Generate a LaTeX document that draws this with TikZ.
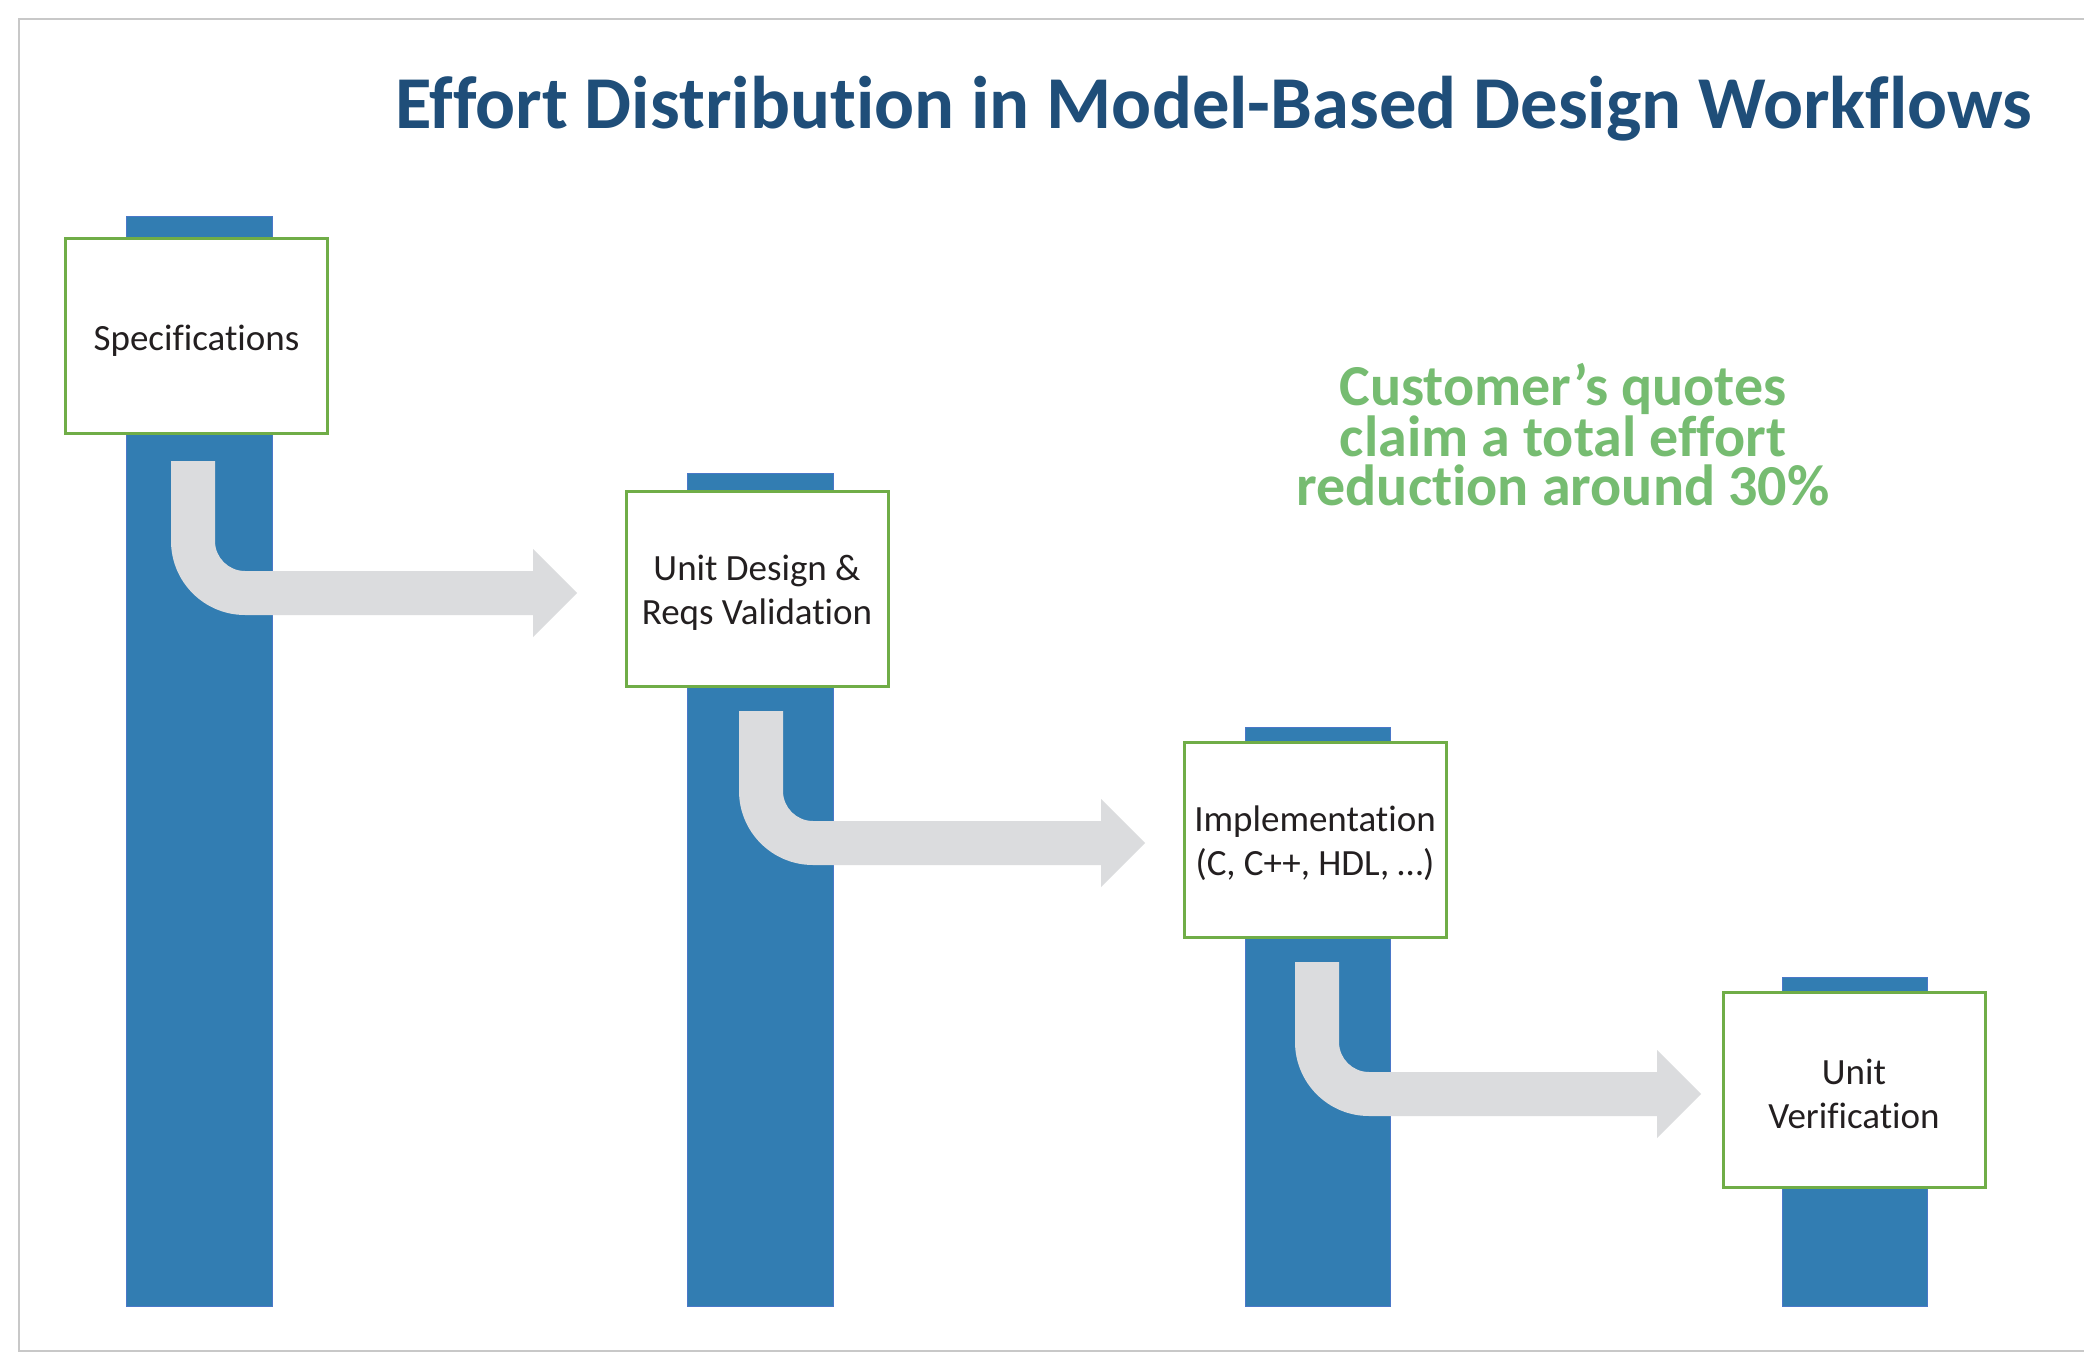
\documentclass[tikz,border=0pt]{standalone}
\usepackage{fontspec}
\setmainfont{Carlito}[Ligatures=NoCommon]
\usetikzlibrary{calc}
\definecolor{titleblue}{HTML}{1F4E79}
\definecolor{barblue}{HTML}{327DB2}
\definecolor{baredge}{HTML}{4A78C8}
\definecolor{boxgreen}{HTML}{70AD47}
\definecolor{quotegreen}{HTML}{76BC71}
\definecolor{arrowgray}{HTML}{DBDCDE}
\definecolor{framegray}{HTML}{C8C8C8}
\definecolor{textdark}{HTML}{231F20}
\tikzset{
  barrect/.style={fill=barblue, draw=baredge, line width=1pt},
  stagebox/.style={draw=boxgreen, line width=3pt, fill=white, minimum width=262pt, minimum height=195pt,
    inner sep=0pt, align=center, text=textdark, font=\fontsize{37}{44}\selectfont},
  bentarrow/.style={fill=arrowgray},
}
\newcommand{\lift}{\rule{0pt}{33pt}}
% #1 = stem left x, #2 = stem top y
\newcommand{\bentarr}[2]{%
  \fill[bentarrow] (#1,#2) -- ({#1+44},#2) -- ({#1+44},{#2+80})
    arc[start angle=180, end angle=90, radius=30]
    -- ({#1+362},{#2+110}) -- ({#1+362},{#2+88}) -- ({#1+406},{#2+132})
    -- ({#1+362},{#2+176}) -- ({#1+362},{#2+154}) -- ({#1+74},{#2+154})
    arc[start angle=90, end angle=180, radius=74] -- cycle;}
\begin{document}
\begin{tikzpicture}[x=1pt, y=-1pt]
\useasboundingbox (0,0) rectangle (2084,1372);
\fill[white] (0,0) rectangle (2084,1372);
% frame
\draw[framegray, line width=2pt] (2090,19) -- (19,19) -- (19,1351) -- (2090,1351);
% title
\node[anchor=base west, inner sep=0pt, text=titleblue, font=\fontsize{74.6}{90}\selectfont\bfseries]
  (title) at (395,129) {Effort Distribution in Model-Based Design Workflows};
% bars
\draw[barrect] (126,217) rectangle (272,1306);
\draw[barrect] (687,473) rectangle (833,1306);
\draw[barrect] (1245,727) rectangle (1390,1306);
\draw[barrect] (1782,977) rectangle (1927,1306);
% arrows
\bentarr{171}{461}
\bentarr{739}{711}
\bentarr{1295}{962}
% boxes
\node[stagebox] (spec) at (196.5,336) {\rule{0pt}{35pt}Specifications};
\node[stagebox] (unit) at (757,589) {\lift Unit Design \&\\Reqs Validation};
\node[stagebox] (impl) at (1315,840) {\lift Implementation\\(C, C++, HDL, …)};
\node[stagebox] (verif) at (1854,1090) {\lift Unit\\Verification};
% quote
\node[anchor=north, inner sep=0pt, align=center, text=quotegreen,
  font=\fontsize{58}{49}\selectfont\bfseries] (quote) at (1563,363)
  {Customer’s quotes\\claim a total effort\\reduction around 30\%};
\end{tikzpicture}
\end{document}
